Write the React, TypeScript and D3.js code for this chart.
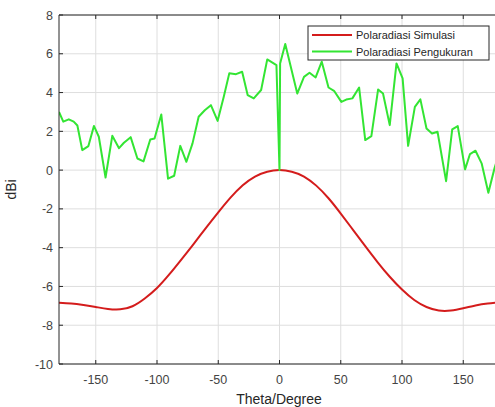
import React from "react";
import * as d3 from "d3";

// measured pattern, [theta, dBi]
const measTheta = [
  -180, -176.5, -172, -168, -165, -161, -156, -151.5, -147.5, -142, -136.5, -131, -127, -121.5,
  -116, -111, -105.5, -102, -96.5, -91, -86, -81, -76, -71, -66, -61, -56, -50.5, -45.5, -41,
  -35.5, -30.5, -26, -21, -15, -10, -2.5, 0, 0.5, 4.7, 14.5, 20, 24.5, 29.5, 34.5, 40, 44.5,
  50.5, 54.5, 59.5, 65, 70, 75, 80.5, 84.5, 90, 95.5, 100.5, 105, 110.5, 115, 120, 124.5, 129,
  136, 141, 145.5, 151.5, 155.5, 160, 165, 170.5, 175.5, 180,
];
const measValue = [
  3.0, 2.5, 2.62, 2.5, 2.3, 1.03, 1.24, 2.28, 1.72, -0.38, 1.77, 1.13, 1.41, 1.7,
  0.6, 0.45, 1.58, 1.63, 2.87, -0.44, -0.29, 1.25, 0.43, 1.38, 2.75, 3.09, 3.35, 2.54, 3.78, 4.99,
  4.95, 5.07, 3.87, 3.7, 4.13, 5.71, 5.42, 0, 5.5, 6.5, 3.95, 4.81, 5.02, 4.78, 5.59, 4.26, 4.09,
  3.52, 3.64, 3.7, 4.26, 1.55, 1.75, 4.16, 3.95, 2.32, 5.5, 4.73, 1.25, 3.26, 3.65, 2.15, 1.89, 1.98,
  -0.57, 2.1, 2.27, 0.04, 0.83, 1.0, 0.35, -1.17, 0.09, 1.0,
];

// simulated pattern, every 10 deg
const simTheta = d3.range(-180, 181, 10);
const simValue = [
  -6.84, -6.88, -6.96, -7.06, -7.16, -7.18, -7.02, -6.62, -6.08, -5.38, -4.6, -3.8, -2.98, -2.18,
  -1.42, -0.78, -0.33, -0.08, 0, -0.08, -0.33, -0.8, -1.45, -2.24, -3.08, -3.92, -4.74, -5.5,
  -6.16, -6.7, -7.06, -7.24, -7.24, -7.12, -6.98, -6.88, -6.82,
];

const xTicks = [-150, -100, -50, 0, 50, 100, 150];
const yTicks = [-10, -8, -6, -4, -2, 0, 2, 4, 6, 8];

const W = 495;
const H = 407;
const font = "'Liberation Sans', Arial, Helvetica, sans-serif";

export default function App() {
  const x = d3.scaleLinear().domain([-180, 180]).range([59, 500]);
  const y = d3.scaleLinear().domain([-10, 8]).range([364, 15]);
  const [x0, x1] = x.range();
  const [y0, y1] = y.range();

  const line = d3
    .line<[number, number]>()
    .x((d) => x(d[0]))
    .y((d) => y(d[1]));
  const smooth = d3
    .line<[number, number]>()
    .x((d) => x(d[0]))
    .y((d) => y(d[1]))
    .curve(d3.curveNatural);

  const meas = measTheta.map((t, i) => [t, measValue[i]] as [number, number]);
  const sim = simTheta.map((t, i) => [t, simValue[i]] as [number, number]);

  return (
    <svg
      width={W}
      height={H}
      style={{ position: "absolute", left: 0, top: 0, background: "#fff" }}
      fontFamily={font}
    >
      <defs>
        <clipPath id="plot">
          <rect x={x0} y={y1} width={x1 - x0} height={y0 - y1} />
        </clipPath>
      </defs>
      {/* grid */}
      {xTicks.map((t) => (
        <line key={"gx" + t} x1={x(t)} x2={x(t)} y1={y1} y2={y0} stroke="#dedede" />
      ))}
      {yTicks.map((t) => (
        <line key={"gy" + t} x1={x0} x2={x1} y1={y(t)} y2={y(t)} stroke="#dedede" />
      ))}

      <g clipPath="url(#plot)">
        <path d={smooth(sim) || ""} fill="none" stroke="#d41c1c" strokeWidth={2} />
        <path d={line(meas) || ""} fill="none" stroke="#33e533" strokeWidth={2} strokeLinejoin="round" />
      </g>

      {/* axes */}
      <line x1={x0} x2={x0} y1={y1} y2={y0} stroke="#262626" />
      <line x1={x0} x2={x1} y1={y0} y2={y0} stroke="#262626" />
      <line x1={x0} x2={x1} y1={y1} y2={y1} stroke="#262626" />
      {xTicks.map((t) => (
        <g key={"tx" + t}>
          <line x1={x(t)} x2={x(t)} y1={y0} y2={y0 - 4} stroke="#262626" />
          <line x1={x(t)} x2={x(t)} y1={y1} y2={y1 + 4} stroke="#262626" />
          <text x={x(t)} y={384} textAnchor="middle" fontSize={12.5} fill="#444">
            {t}
          </text>
        </g>
      ))}
      {yTicks.map((t) => (
        <g key={"ty" + t}>
          <line x1={x0} x2={x0 + 4} y1={y(t)} y2={y(t)} stroke="#262626" />
          <text x={53} y={y(t) + 4.5} textAnchor="end" fontSize={12.5} fill="#444">
            {t}
          </text>
        </g>
      ))}
      <text x={279} y={404} textAnchor="middle" fontSize={14} fill="#262626">
        Theta/Degree
      </text>
      <text
        transform={`translate(16, ${(y0 + y1) / 2}) rotate(-90)`}
        textAnchor="middle"
        fontSize={14}
        fill="#262626"
      >
        dBi
      </text>

      {/* legend */}
      <g>
        <rect x={308} y={26} width={181} height={34} fill="#fff" stroke="#262626" strokeWidth={1} />
        <line x1={312} x2={352} y1={35} y2={35} stroke="#d41c1c" strokeWidth={2} />
        <text x={356} y={39} fontSize={11} fill="#262626">
          Polaradiasi Simulasi
        </text>
        <line x1={312} x2={352} y1={51.5} y2={51.5} stroke="#33e533" strokeWidth={2} />
        <text x={356} y={55.5} fontSize={11} fill="#262626">
          Polaradiasi Pengukuran
        </text>
      </g>
    </svg>
  );
}
